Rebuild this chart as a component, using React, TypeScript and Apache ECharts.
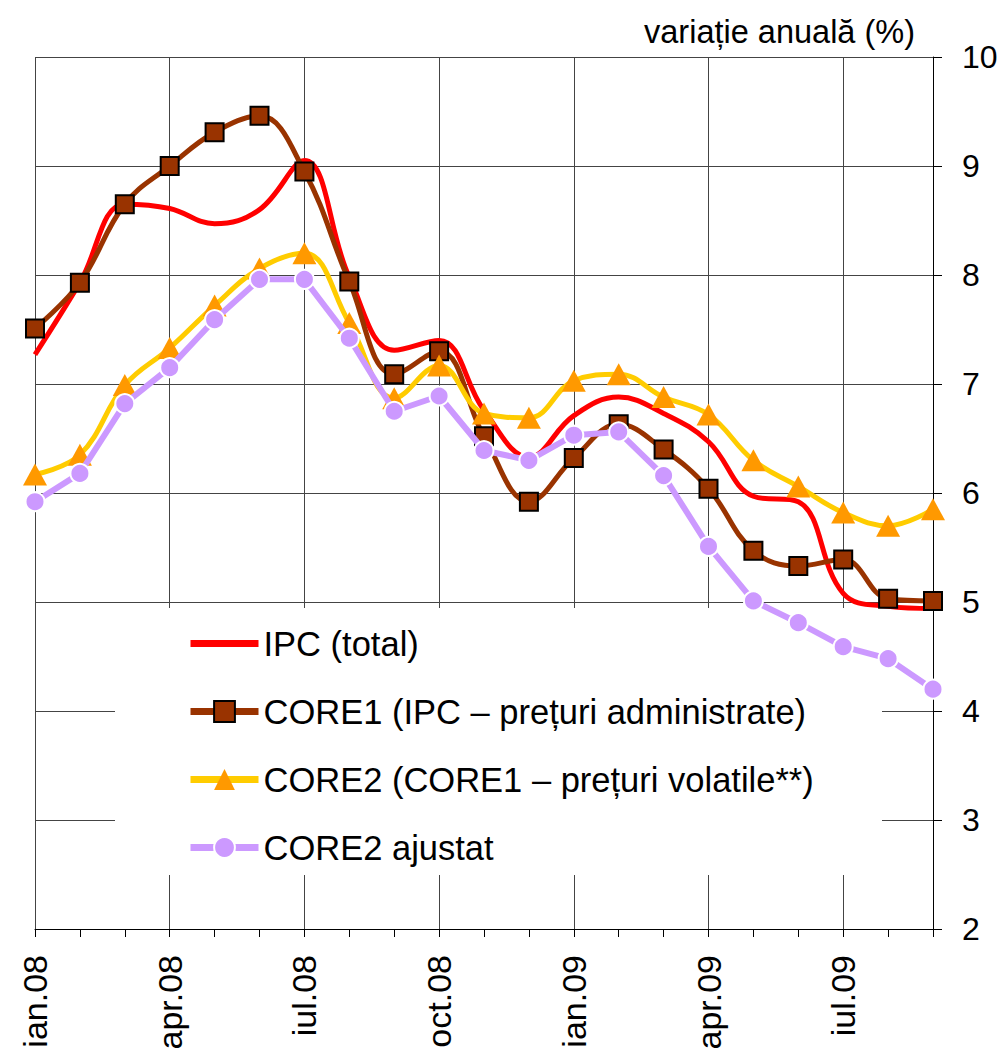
import React, { useEffect, useRef } from "react";
import * as echarts from "echarts";

const months = [
  "ian.08", "feb.08", "mar.08", "apr.08", "mai.08", "iun.08", "iul.08", "aug.08", "sep.08", "oct.08", "nov.08", "dec.08",
  "ian.09", "feb.09", "mar.09", "apr.09", "mai.09", "iun.09", "iul.09", "aug.09", "sep.09",
];

const ipc = [7.27, 7.93, 8.65, 8.61, 8.47, 8.6, 9.05, 7.98, 7.31, 7.4, 6.76, 6.33, 6.71, 6.88, 6.73, 6.47, 5.97, 5.92, 5.08, 4.96, 4.94];
const core1 = [7.51, 7.93, 8.65, 9.0, 9.31, 9.46, 8.95, 7.94, 7.09, 7.3, 6.52, 5.92, 6.32, 6.63, 6.4, 6.04, 5.47, 5.33, 5.39, 5.03, 5.01];
const core2 = [6.17, 6.35, 6.99, 7.33, 7.72, 8.06, 8.2, 7.56, 6.87, 7.17, 6.73, 6.69, 7.03, 7.09, 6.88, 6.72, 6.3, 6.06, 5.82, 5.7, 5.85];
const core2adj = [5.92, 6.18, 6.82, 7.15, 7.59, 7.96, 7.96, 7.42, 6.75, 6.89, 6.39, 6.3, 6.53, 6.56, 6.16, 5.51, 5.01, 4.81, 4.59, 4.48, 4.2];

const seriesNames = [
  "IPC (total)",
  "CORE1 (IPC – prețuri administrate)",
  "CORE2 (CORE1 – prețuri volatile**)",
  "CORE2 ajustat",
];

const titleText = "variație anuală (%)";
const FONT = "'Liberation Sans', Arial, sans-serif";

export default function App() {
  const ref = useRef<HTMLDivElement>(null);

  useEffect(() => {
    if (!ref.current) return;
    document.body.style.margin = "0";
    document.body.style.overflow = "hidden";
    const chart = echarts.init(ref.current, undefined, { renderer: "svg" });
    const option: any = {
      animation: false,
      backgroundColor: "#ffffff",
      textStyle: { fontFamily: FONT },
      title: {
        text: titleText,
        right: 86,
        top: 10,
        textStyle: { fontFamily: FONT, fontSize: 32.5, fontWeight: "normal", color: "#000" },
      },
      grid: { left: 35, right: 73, top: 57, bottom: 125, containLabel: false, outerBoundsMode: "none" },
      graphic: [
        {
          type: "rect",
          z: 1,
          shape: { x: 115, y: 608, width: 767, height: 267 },
          style: { fill: "#ffffff" },
        },
      ],
      legend: {
        orient: "vertical",
        left: 187,
        top: 626,
        z: 3,
        itemWidth: 68,
        itemHeight: 26,
        itemGap: 33,
        padding: 0,
        selectedMode: false,
        textStyle: { fontFamily: FONT, fontSize: 34.5, color: "#000", lineHeight: 34 },
        data: [
          { name: seriesNames[0], icon: "path://M0,0 H68 V7 H0 Z" },
          seriesNames[1],
          seriesNames[2],
          seriesNames[3],
        ],
        lineStyle: { width: 7 },
      },
      xAxis: {
        type: "category",
        data: months,
        boundaryGap: false,
        axisLine: { show: true, lineStyle: { color: "#000", width: 1 } },
        axisTick: { show: true, interval: 0, length: 8, inside: false, lineStyle: { color: "#000" } },
        axisLabel: {
          interval: 2,
          rotate: 90,
          margin: 26,
          fontSize: 34,
          fontFamily: FONT,
          color: "#000",
        },
        splitLine: { show: true, interval: 2, lineStyle: { color: "#444", width: 1 } },
      },
      yAxis: {
        type: "value",
        position: "right",
        min: 2,
        max: 10,
        interval: 1,
        axisLine: { show: true, lineStyle: { color: "#000", width: 1 } },
        axisTick: { show: true, length: 9, inside: false, lineStyle: { color: "#000" } },
        axisLabel: { margin: 29, fontSize: 32, fontFamily: FONT, color: "#000" },
        splitLine: { show: true, lineStyle: { color: "#444", width: 1 } },
      },
      series: [
        {
          name: seriesNames[0],
          type: "line",
          data: ipc,
          smooth: 0.4,
          symbol: "none",
          z: 2,
          lineStyle: { color: "#ff0000", width: 5 },
          itemStyle: { color: "#ff0000" },
        },
        {
          name: seriesNames[1],
          type: "line",
          data: core1,
          smooth: 0.4,
          symbol: "rect",
          symbolSize: 18,
          z: 3,
          lineStyle: { color: "#993300", width: 5 },
          itemStyle: { color: "#993300", borderColor: "#000", borderWidth: 2 },
        },
        {
          name: seriesNames[2],
          type: "line",
          data: core2,
          smooth: 0.4,
          symbol: "triangle",
          symbolSize: [24, 22],
          z: 4,
          lineStyle: { color: "#ffcc00", width: 5 },
          itemStyle: { color: "#ff9900", borderWidth: 0 },
        },
        {
          name: seriesNames[3],
          type: "line",
          data: core2adj,
          smooth: false,
          symbol: "circle",
          symbolSize: 19,
          z: 5,
          lineStyle: { color: "#cc99ff", width: 6 },
          itemStyle: { color: "#cc99ff", borderColor: "#ffffff", borderWidth: 2 },
        },
      ],
    };
    chart.setOption(option);
    return () => chart.dispose();
  }, []);

  return (
    <div style={{ width: 1006, height: 1054, position: "fixed", left: 0, top: 0, overflow: "hidden" }}>
      <div ref={ref} style={{ width: 1006, height: 1054 }} />
    </div>
  );
}
